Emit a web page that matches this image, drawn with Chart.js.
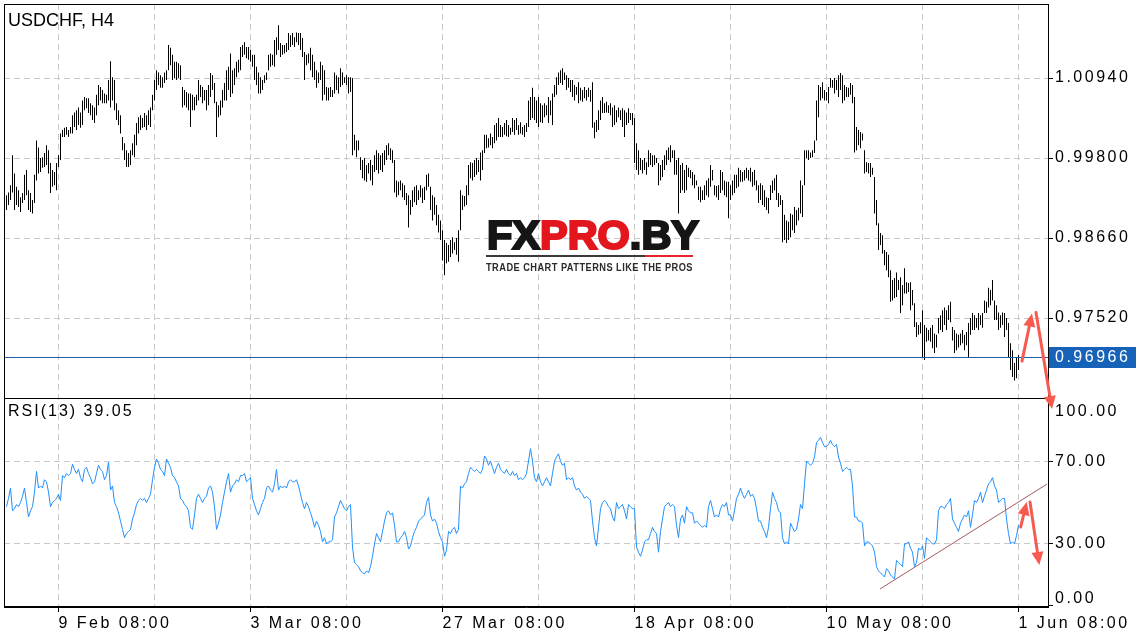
<!DOCTYPE html>
<html>
<head>
<meta charset="utf-8">
<title>USDCHF, H4</title>
<script src="https://cdn.jsdelivr.net/npm/chart.js@4.4.1/dist/chart.umd.min.js"></script>
<style>
  html, body { margin: 0; padding: 0; background: #fff; }
  #wrap { position: relative; width: 1136px; height: 640px; }
</style>
</head>
<body>
<div id="wrap"><canvas id="chart" width="1136" height="640"></canvas></div>
<script>
// USDCHF H4 bars (high / low of each bar)
const highs = [
  0.9927, 0.9931, 0.9941, 0.9984, 0.9958, 0.9939, 0.9934, 0.9924, 0.9930, 0.9956,
  0.9963, 0.9934, 0.9930, 0.9920, 0.9956, 1.0005, 0.9995, 0.9980, 0.9981, 0.9987,
  0.9998, 0.9991, 0.9973, 0.9963, 0.9960, 0.9973, 0.9984, 1.0015, 1.0020, 1.0023,
  1.0024, 1.0020, 1.0024, 1.0041, 1.0045, 1.0048, 1.0052, 1.0045, 1.0062, 1.0067,
  1.0065, 1.0065, 1.0058, 1.0055, 1.0052, 1.0070, 1.0084, 1.0081, 1.0077, 1.0072,
  1.0070, 1.0091, 1.0118, 1.0095, 1.0091, 1.0058, 1.0048, 1.0041, 1.0010, 1.0001,
  0.9991, 0.9987, 0.9991, 1.0001, 1.0013, 1.0030, 1.0038, 1.0041, 1.0037, 1.0044,
  1.0041, 1.0048, 1.0052, 1.0070, 1.0091, 1.0105, 1.0102, 1.0098, 1.0095, 1.0102,
  1.0105, 1.0141, 1.0137, 1.0127, 1.0117, 1.0117, 1.0115, 1.0112, 1.0081, 1.0077,
  1.0074, 1.0072, 1.0072, 1.0070, 1.0067, 1.0070, 1.0091, 1.0084, 1.0081, 1.0077,
  1.0077, 1.0084, 1.0101, 1.0098, 1.0087, 1.0060, 1.0055, 1.0062, 1.0077, 1.0087,
  1.0105, 1.0110, 1.0129, 1.0105, 1.0108, 1.0117, 1.0120, 1.0138, 1.0141, 1.0145,
  1.0138, 1.0138, 1.0134, 1.0127, 1.0127, 1.0110, 1.0102, 1.0095, 1.0091, 1.0098,
  1.0102, 1.0127, 1.0129, 1.0127, 1.0148, 1.0152, 1.0169, 1.0144, 1.0141, 1.0141,
  1.0144, 1.0158, 1.0155, 1.0158, 1.0152, 1.0159, 1.0158, 1.0158, 1.0151, 1.0131,
  1.0127, 1.0129, 1.0137, 1.0127, 1.0117, 1.0105, 1.0102, 1.0117, 1.0112, 1.0105,
  1.0081, 1.0080, 1.0081, 1.0077, 1.0102, 1.0098, 1.0095, 1.0108, 1.0102, 1.0095,
  1.0098, 1.0095, 1.0095, 1.0094, 1.0013, 1.0005, 1.0005, 0.9981, 0.9977, 0.9980,
  0.9970, 0.9973, 0.9977, 0.9970, 0.9984, 0.9991, 0.9987, 0.9984, 0.9987, 0.9991,
  0.9998, 1.0001, 0.9994, 0.9991, 0.9977, 0.9948, 0.9946, 0.9948, 0.9944, 0.9941,
  0.9930, 0.9927, 0.9920, 0.9934, 0.9939, 0.9941, 0.9934, 0.9941, 0.9937, 0.9939,
  0.9956, 0.9958, 0.9939, 0.9927, 0.9924, 0.9913, 0.9899, 0.9891, 0.9877, 0.9863,
  0.9859, 0.9856, 0.9863, 0.9867, 0.9860, 0.9866, 0.9877, 0.9934, 0.9927, 0.9926,
  0.9941, 0.9970, 0.9974, 0.9973, 0.9977, 0.9980, 0.9977, 0.9988, 0.9991, 1.0013,
  1.0013, 1.0008, 1.0015, 1.0010, 1.0027, 1.0030, 1.0037, 1.0027, 1.0024, 1.0030,
  1.0034, 1.0027, 1.0023, 1.0037, 1.0034, 1.0037, 1.0027, 1.0031, 1.0024, 1.0027,
  1.0030, 1.0062, 1.0067, 1.0080, 1.0067, 1.0062, 1.0067, 1.0058, 1.0055, 1.0058,
  1.0055, 1.0067, 1.0062, 1.0072, 1.0084, 1.0095, 1.0102, 1.0105, 1.0108, 1.0102,
  1.0098, 1.0094, 1.0091, 1.0091, 1.0084, 1.0081, 1.0088, 1.0080, 1.0077, 1.0081,
  1.0077, 1.0080, 1.0077, 1.0088, 1.0031, 1.0034, 1.0048, 1.0062, 1.0067, 1.0058,
  1.0060, 1.0055, 1.0058, 1.0052, 1.0055, 1.0048, 1.0052, 1.0048, 1.0051, 1.0048,
  1.0045, 1.0051, 1.0044, 1.0044, 1.0037, 1.0001, 0.9991, 0.9980, 0.9977, 0.9980,
  0.9974, 0.9991, 0.9987, 0.9984, 0.9984, 0.9980, 0.9973, 0.9970, 0.9977, 0.9984,
  0.9991, 0.9995, 0.9998, 0.9991, 0.9991, 0.9977, 0.9980, 0.9970, 0.9973, 0.9963,
  0.9970, 0.9966, 0.9963, 0.9960, 0.9956, 0.9948, 0.9939, 0.9939, 0.9934, 0.9941,
  0.9948, 0.9951, 0.9970, 0.9963, 0.9941, 0.9940, 0.9941, 0.9963, 0.9960, 0.9948,
  0.9946, 0.9946, 0.9941, 0.9948, 0.9956, 0.9956, 0.9966, 0.9963, 0.9960, 0.9963,
  0.9966, 0.9963, 0.9966, 0.9960, 0.9963, 0.9948, 0.9941, 0.9944, 0.9941, 0.9934,
  0.9924, 0.9923, 0.9941, 0.9948, 0.9951, 0.9956, 0.9930, 0.9927, 0.9920, 0.9899,
  0.9891, 0.9889, 0.9901, 0.9899, 0.9910, 0.9906, 0.9909, 0.9948, 0.9941, 0.9991,
  0.9991, 0.9991, 0.9988, 0.9991, 1.0005, 1.0062, 1.0084, 1.0081, 1.0088, 1.0077,
  1.0074, 1.0081, 1.0094, 1.0091, 1.0094, 1.0091, 1.0098, 1.0101, 1.0098, 1.0084,
  1.0081, 1.0080, 1.0087, 1.0084, 1.0067, 1.0024, 1.0020, 1.0017, 1.0015, 0.9991,
  0.9974, 0.9973, 0.9973, 0.9966, 0.9953, 0.9920, 0.9887, 0.9873, 0.9870, 0.9849,
  0.9846, 0.9842, 0.9820, 0.9806, 0.9809, 0.9817, 0.9806, 0.9810, 0.9799, 0.9823,
  0.9803, 0.9802, 0.9803, 0.9792, 0.9773, 0.9746, 0.9742, 0.9746, 0.9763, 0.9742,
  0.9738, 0.9735, 0.9738, 0.9742, 0.9730, 0.9728, 0.9752, 0.9756, 0.9763, 0.9767,
  0.9763, 0.9770, 0.9775, 0.9739, 0.9735, 0.9730, 0.9728, 0.9730, 0.9735, 0.9728,
  0.9732, 0.9745, 0.9752, 0.9759, 0.9756, 0.9752, 0.9759, 0.9756, 0.9759, 0.9777,
  0.9775, 0.9795, 0.9792, 0.9806, 0.9777, 0.9770, 0.9760, 0.9756, 0.9760, 0.9759,
  0.9752, 0.9745, 0.9716, 0.9706, 0.9688, 0.9695, 0.9699
];
const lows = [
  0.9906, 0.9913, 0.9920, 0.9931, 0.9906, 0.9913, 0.9910, 0.9903, 0.9916, 0.9920,
  0.9927, 0.9906, 0.9903, 0.9901, 0.9916, 0.9948, 0.9958, 0.9960, 0.9966, 0.9967,
  0.9970, 0.9958, 0.9930, 0.9939, 0.9941, 0.9934, 0.9967, 0.9977, 1.0010, 1.0010,
  1.0013, 1.0010, 1.0015, 1.0015, 1.0024, 1.0020, 1.0027, 1.0023, 1.0027, 1.0048,
  1.0051, 1.0044, 1.0041, 1.0034, 1.0030, 1.0041, 1.0055, 1.0062, 1.0058, 1.0058,
  1.0058, 1.0062, 1.0052, 1.0062, 1.0048, 1.0034, 1.0027, 1.0015, 0.9991, 0.9977,
  0.9967, 0.9967, 0.9970, 0.9984, 0.9981, 0.9998, 1.0015, 1.0020, 1.0023, 1.0024,
  1.0020, 1.0027, 1.0024, 1.0048, 1.0062, 1.0077, 1.0084, 1.0080, 1.0080, 1.0087,
  1.0091, 1.0105, 1.0112, 1.0091, 1.0094, 1.0091, 1.0094, 1.0091, 1.0052, 1.0055,
  1.0052, 1.0048, 1.0024, 1.0048, 1.0048, 1.0055, 1.0062, 1.0067, 1.0058, 1.0062,
  1.0048, 1.0055, 1.0067, 1.0077, 1.0058, 1.0010, 1.0038, 1.0041, 1.0052, 1.0062,
  1.0062, 1.0077, 1.0067, 1.0072, 1.0084, 1.0095, 1.0102, 1.0105, 1.0124, 1.0127,
  1.0122, 1.0120, 1.0117, 1.0110, 1.0091, 1.0084, 1.0072, 1.0072, 1.0077, 1.0087,
  1.0091, 1.0105, 1.0110, 1.0112, 1.0110, 1.0127, 1.0134, 1.0124, 1.0127, 1.0129,
  1.0131, 1.0134, 1.0138, 1.0141, 1.0138, 1.0145, 1.0141, 1.0134, 1.0124, 1.0091,
  1.0112, 1.0115, 1.0105, 1.0095, 1.0091, 1.0080, 1.0087, 1.0091, 1.0062, 1.0070,
  1.0062, 1.0062, 1.0067, 1.0067, 1.0072, 1.0077, 1.0072, 1.0081, 1.0084, 1.0087,
  1.0084, 1.0072, 1.0074, 0.9984, 0.9991, 0.9981, 0.9991, 0.9963, 0.9951, 0.9948,
  0.9946, 0.9958, 0.9948, 0.9941, 0.9960, 0.9963, 0.9958, 0.9963, 0.9960, 0.9970,
  0.9977, 0.9984, 0.9977, 0.9973, 0.9931, 0.9924, 0.9927, 0.9934, 0.9924, 0.9920,
  0.9913, 0.9881, 0.9899, 0.9910, 0.9917, 0.9913, 0.9920, 0.9924, 0.9916, 0.9920,
  0.9934, 0.9939, 0.9906, 0.9891, 0.9899, 0.9884, 0.9874, 0.9863, 0.9834, 0.9813,
  0.9830, 0.9832, 0.9839, 0.9844, 0.9849, 0.9842, 0.9832, 0.9877, 0.9906, 0.9911,
  0.9913, 0.9927, 0.9951, 0.9948, 0.9953, 0.9956, 0.9960, 0.9948, 0.9963, 0.9987,
  0.9994, 0.9995, 0.9998, 0.9994, 1.0001, 1.0005, 1.0010, 1.0010, 1.0010, 1.0013,
  1.0011, 1.0010, 1.0013, 1.0017, 1.0013, 1.0020, 1.0013, 1.0015, 1.0013, 1.0010,
  1.0017, 1.0024, 1.0034, 1.0037, 1.0034, 1.0030, 1.0024, 1.0031, 1.0030, 1.0038,
  1.0041, 1.0030, 1.0041, 1.0027, 1.0067, 1.0070, 1.0084, 1.0087, 1.0084, 1.0091,
  1.0077, 1.0080, 1.0074, 1.0067, 1.0062, 1.0070, 1.0058, 1.0062, 1.0060, 1.0065,
  1.0062, 1.0067, 1.0060, 1.0023, 1.0008, 1.0017, 1.0020, 1.0034, 1.0044, 1.0044,
  1.0045, 1.0044, 1.0041, 1.0024, 1.0027, 1.0031, 1.0038, 1.0034, 1.0024, 1.0010,
  1.0027, 1.0030, 1.0034, 1.0027, 0.9973, 0.9963, 0.9956, 0.9963, 0.9958, 0.9963,
  0.9956, 0.9967, 0.9970, 0.9967, 0.9970, 0.9973, 0.9941, 0.9948, 0.9953, 0.9963,
  0.9970, 0.9977, 0.9974, 0.9980, 0.9956, 0.9956, 0.9901, 0.9930, 0.9934, 0.9930,
  0.9934, 0.9953, 0.9951, 0.9941, 0.9937, 0.9941, 0.9920, 0.9917, 0.9920, 0.9920,
  0.9927, 0.9924, 0.9939, 0.9948, 0.9927, 0.9924, 0.9920, 0.9930, 0.9934, 0.9927,
  0.9924, 0.9894, 0.9920, 0.9927, 0.9930, 0.9937, 0.9939, 0.9946, 0.9946, 0.9948,
  0.9951, 0.9948, 0.9946, 0.9939, 0.9941, 0.9934, 0.9916, 0.9920, 0.9913, 0.9910,
  0.9906, 0.9901, 0.9920, 0.9930, 0.9934, 0.9920, 0.9910, 0.9913, 0.9860, 0.9863,
  0.9859, 0.9863, 0.9867, 0.9877, 0.9873, 0.9884, 0.9891, 0.9901, 0.9896, 0.9941,
  0.9980, 0.9977, 0.9980, 0.9981, 0.9987, 1.0005, 1.0038, 1.0062, 1.0065, 1.0062,
  1.0062, 1.0058, 1.0080, 1.0080, 1.0072, 1.0077, 1.0067, 1.0077, 1.0058, 1.0062,
  1.0067, 1.0067, 1.0070, 1.0058, 0.9988, 0.9991, 0.9998, 0.9994, 1.0005, 0.9958,
  0.9960, 0.9958, 0.9953, 0.9956, 0.9901, 0.9884, 0.9849, 0.9856, 0.9844, 0.9827,
  0.9820, 0.9810, 0.9775, 0.9777, 0.9780, 0.9782, 0.9792, 0.9759, 0.9770, 0.9787,
  0.9787, 0.9789, 0.9763, 0.9770, 0.9739, 0.9725, 0.9728, 0.9730, 0.9695, 0.9692,
  0.9718, 0.9720, 0.9718, 0.9709, 0.9702, 0.9710, 0.9730, 0.9735, 0.9732, 0.9742,
  0.9735, 0.9749, 0.9746, 0.9720, 0.9702, 0.9706, 0.9710, 0.9713, 0.9716, 0.9706,
  0.9713, 0.9696, 0.9728, 0.9735, 0.9735, 0.9738, 0.9735, 0.9742, 0.9738, 0.9759,
  0.9759, 0.9767, 0.9770, 0.9777, 0.9749, 0.9749, 0.9735, 0.9738, 0.9742, 0.9725,
  0.9735, 0.9696, 0.9678, 0.9668, 0.9663, 0.9666, 0.9678
];
// RSI(13) per bar
const rsi = [
  48, 52, 57, 46, 47, 49, 48, 50, 53, 57,
  50, 43, 46, 48, 55, 65, 57, 58, 57, 61,
  60, 55, 48, 50, 51, 52, 54, 51, 63, 62,
  64, 63, 64, 68.5, 66, 64, 66, 62, 60, 66,
  67, 64, 62, 59, 60, 64, 68, 66, 65, 61,
  63, 69.5, 56, 58, 50, 48, 45, 41, 37, 33,
  35, 36, 37, 42, 45, 49, 51, 52, 51, 52,
  50, 52, 54, 61, 67, 71, 69, 66, 65, 63,
  71, 69, 67, 63, 62, 60, 58, 52, 51, 49,
  48, 46, 38, 37, 44, 52, 54, 52, 50, 52,
  53, 57, 58, 55, 48, 37, 40, 44, 50, 55,
  60, 64, 55, 58, 59, 61, 60, 63, 63, 64,
  60, 61, 62, 52, 49, 46, 44, 47, 50, 52,
  57, 58, 56, 55, 59, 66, 56, 58, 57, 58,
  57, 60, 61, 60, 60, 61, 58, 54, 50, 47,
  50, 48, 45, 42, 38, 41, 39, 36, 31, 33,
  30, 31, 31, 32, 43, 45, 48, 51, 49, 47,
  46, 48, 49, 28.5, 21, 20, 19, 17, 16, 15.5,
  17, 16, 19, 24, 30, 35, 33, 31, 36, 41,
  45, 46, 44, 45, 39, 31, 31, 33, 34, 36,
  33, 27.5, 29, 33, 36, 38, 41, 42, 43, 44,
  50, 52.5, 44, 41, 42, 40, 36, 33, 31, 24,
  27, 36, 35, 37, 38, 35, 37, 58, 57, 59,
  60, 64, 67, 66, 65, 66, 65, 64, 66, 72.5,
  71, 68, 70, 67, 64, 67, 69, 66, 65, 64,
  66, 64, 63, 65, 63, 64, 61, 62, 61, 62,
  64, 70, 76, 70, 62, 60, 64, 60, 58, 60,
  62, 60, 58, 64, 70, 72, 73.5, 70, 68, 69,
  61, 62, 61, 62, 58, 56, 57, 55, 54, 52,
  53, 52, 51, 41, 33, 29, 38, 47, 50, 51,
  50, 48, 47, 43, 41, 50, 47, 48, 49, 46,
  42, 49, 48, 47, 47, 28.5, 26, 24, 27, 31,
  32, 32, 35, 38, 36, 35, 26, 36, 42, 48,
  49, 50, 48, 49, 48, 39, 33, 42, 44, 40,
  48, 46, 45, 45, 40, 41, 40, 39, 38, 39,
  38, 48, 51, 47, 43, 44, 43, 47, 49, 48,
  50, 44, 44, 41, 46, 52, 54, 57, 54, 52,
  54, 56, 53, 54, 52, 47, 41, 41, 38, 36,
  33, 38, 47, 55, 52, 50, 46, 45, 33, 30,
  31, 30, 40, 38, 36, 37, 42, 49, 47, 59,
  70, 69, 68, 69, 72, 79, 80, 81.5, 79, 77,
  77, 78, 80, 78, 77, 78, 72, 69, 65, 66,
  67, 66, 66, 58, 43, 43, 41, 41, 40, 29,
  31, 31, 30, 29, 26, 19, 17, 16, 15, 14,
  18, 17, 15, 14, 13, 22, 21, 20, 19, 30,
  30, 31, 28, 26, 19, 21, 28, 27, 29, 23,
  33, 32, 31, 30, 30, 32, 46, 48, 48, 47,
  49, 50, 52, 42, 40, 38, 36, 40, 42, 44,
  43, 46, 38, 44, 51, 50, 52, 55, 50, 53,
  56, 59, 60, 62, 58, 56, 50, 51, 52, 52,
  42, 35, 30, 31, 30, 34, 39.05
];

const lastPrice = 0.96966;
const priceTicks = [1.00940, 0.99800, 0.98660, 0.97520];
const rsiTicks = [100, 70, 30, 0];
// grid every 48 bars, a date label on every second one
const xGridIdx = [26, 74, 122, 170, 218, 266, 314, 362, 410, 458, 506];
const xTickLabels = ['9 Feb 08:00', '3 Mar 08:00', '27 Mar 08:00', '18 Apr 08:00', '10 May 08:00', '1 Jun 08:00'];

// hand-drawn marks on the chart, in (bar, value) units
const rsiTrend = [[436.75, 8.2], [520.25, 58.9]];
const priceArrows = [[[507.75, 0.96906], [512.75, 0.97585]], [[514.75, 0.97600], [522.75, 0.96222]]];
const rsiArrows = [[[507.1, 38.2], [510.1, 50.2]], [[511.75, 50.2], [516.4, 19.8]]];

const FONT = "'Liberation Sans', Arial, sans-serif";
const GRID = '#c8c8c8';
const DASH = [6, 4];

Chart.defaults.font.family = FONT;
Chart.defaults.font.size = 16;
Chart.defaults.color = '#000';

const barData = highs.map((h, i) => ({ x: i, y: [lows[i], h] }));
const rsiData = rsi.map((v, i) => ({ x: i, y: v }));

function drawArrow(ctx, x1, y1, x2, y2) {
  const ang = Math.atan2(y2 - y1, x2 - x1);
  const len = 13, half = 6;
  const bx = x2 - Math.cos(ang) * len, by = y2 - Math.sin(ang) * len;
  ctx.beginPath();
  ctx.moveTo(x1, y1);
  ctx.lineTo(bx, by);
  ctx.stroke();
  ctx.beginPath();
  ctx.moveTo(x2, y2);
  ctx.lineTo(bx + Math.sin(ang) * half, by - Math.cos(ang) * half);
  ctx.lineTo(bx - Math.sin(ang) * half, by + Math.cos(ang) * half);
  ctx.closePath();
  ctx.fill();
}

function fitText(ctx, text, x, y, width) {
  const w = ctx.measureText(text).width;
  ctx.save();
  ctx.translate(x, y);
  ctx.scale(width / w, 1);
  ctx.fillText(text, 0, 0);
  ctx.restore();
}

function drawLogo(ctx) {
  const x0 = 486, top = 221, base = 250;
  ctx.save();
  ctx.letterSpacing = '0px';
  ctx.textBaseline = 'alphabetic';
  ctx.font = "bold 40px " + FONT;
  const dark = ctx.createLinearGradient(0, top, 0, base);
  dark.addColorStop(0, '#151515');
  dark.addColorStop(0.45, '#2e2e2e');
  dark.addColorStop(1, '#8c8c8c');
  const red = ctx.createLinearGradient(0, top, 0, base);
  red.addColorStop(0, '#e3161e');
  red.addColorStop(0.5, '#ee3037');
  red.addColorStop(1, '#f6a2a2');
  const parts = [['FX', dark], ['PRO', red], ['.BY', dark]];
  const total = parts.reduce((s, p) => s + ctx.measureText(p[0]).width, 0);
  const sx = 212 / total;
  ctx.translate(x0 + 1, base - 1);
  ctx.scale(sx, 1);
  ctx.lineWidth = 2.2;
  ctx.lineJoin = 'miter';
  let cx = 0;
  parts.forEach(p => {
    ctx.fillStyle = p[1];
    ctx.strokeStyle = p[1];
    ctx.fillText(p[0], cx, 0);
    ctx.strokeText(p[0], cx, 0);
    cx += ctx.measureText(p[0]).width;
  });
  ctx.restore();

  ctx.save();
  ctx.fillStyle = '#3a3a3a';
  ctx.fillRect(486, 255, 159, 2);
  ctx.fillStyle = '#e8232a';
  ctx.fillRect(645, 255, 48, 2);
  ctx.letterSpacing = '0.5px';
  ctx.font = "bold 10px " + FONT;
  ctx.fillStyle = '#2b2b2b';
  ctx.textBaseline = 'alphabetic';
  fitText(ctx, 'TRADE CHART PATTERNS LIKE THE PROS', 486, 271, 207);
  ctx.restore();
}

const overlay = {
  id: 'overlay',
  beforeDraw(chart) {
    chart.ctx.letterSpacing = '2.5px';
  },
  beforeDatasetsDraw(chart) {
    drawLogo(chart.ctx);
  },
  afterDatasetsDraw(chart) {
    const ctx = chart.ctx;
    const { x, y, rsi: r } = chart.scales;
    const area = chart.chartArea;

    // current price line and its label
    const py = Math.round(y.getPixelForValue(lastPrice)) + 0.5;
    ctx.save();
    ctx.strokeStyle = '#1f5fa6';
    ctx.lineWidth = 1;
    ctx.beginPath();
    ctx.moveTo(area.left, py);
    ctx.lineTo(area.right, py);
    ctx.stroke();
    ctx.fillStyle = '#1562b8';
    ctx.fillRect(area.right + 1, py - 10.5, 88, 21);
    ctx.fillStyle = '#fff';
    ctx.font = '16px ' + FONT;
    ctx.letterSpacing = '2.5px';
    ctx.textBaseline = 'middle';
    ctx.fillText(lastPrice.toFixed(5), area.right + 7, py + 0.5);
    ctx.restore();

    // panel frames
    ctx.save();
    ctx.strokeStyle = '#000';
    ctx.lineWidth = 1;
    ctx.strokeRect(area.left + 0.5, y.top + 0.5, area.right - area.left, y.bottom - y.top);
    ctx.strokeRect(area.left + 0.5, r.top + 0.5, area.right - area.left, r.bottom - r.top - 1);
    ctx.restore();

    // RSI trend line
    ctx.save();
    ctx.strokeStyle = '#a65a5c';
    ctx.lineWidth = 1;
    ctx.beginPath();
    ctx.moveTo(x.getPixelForValue(rsiTrend[0][0]), r.getPixelForValue(rsiTrend[0][1]));
    ctx.lineTo(x.getPixelForValue(rsiTrend[1][0]), r.getPixelForValue(rsiTrend[1][1]));
    ctx.stroke();
    ctx.restore();

    // red arrows
    ctx.save();
    ctx.strokeStyle = '#f75a50';
    ctx.fillStyle = '#f75a50';
    ctx.lineWidth = 3;
    ctx.lineCap = 'round';
    priceArrows.forEach(a => drawArrow(ctx,
      x.getPixelForValue(a[0][0]), y.getPixelForValue(a[0][1]),
      x.getPixelForValue(a[1][0]), y.getPixelForValue(a[1][1])));
    rsiArrows.forEach(a => drawArrow(ctx,
      x.getPixelForValue(a[0][0]), r.getPixelForValue(a[0][1]),
      x.getPixelForValue(a[1][0]), r.getPixelForValue(a[1][1])));
    ctx.restore();

    // texts
    ctx.save();
    ctx.fillStyle = '#000';
    ctx.textBaseline = 'alphabetic';
    ctx.letterSpacing = '0px';
    ctx.font = '18px ' + FONT;
    ctx.fillText('USDCHF, H4', 8, 26);
    ctx.letterSpacing = '2px';
    ctx.font = '16px ' + FONT;
    ctx.fillText('RSI(13) ' + rsi[rsi.length - 1].toFixed(2), 8, r.top + 18);
    ctx.letterSpacing = '2.5px';
    ctx.fillText('100.00', area.right + 7, r.top + 18);
    ctx.fillText('0.00', area.right + 7, r.bottom - 4);
    ctx.restore();
  }
};

new Chart(document.getElementById('chart'), {
  data: {
    datasets: [
      {
        type: 'bar',
        label: 'USDCHF',
        data: barData,
        yAxisID: 'y',
        backgroundColor: '#000',
        borderWidth: 0,
        inflateAmount: 0,
        barThickness: 1
      },
      {
        type: 'line',
        label: 'RSI(13)',
        data: rsiData,
        yAxisID: 'rsi',
        borderColor: '#1e90ff',
        borderWidth: 1,
        pointRadius: 0,
        tension: 0
      }
    ]
  },
  options: {
    responsive: false,
    animation: false,
    layout: { padding: { left: 4, top: 4, right: 0, bottom: 0 } },
    plugins: { legend: { display: false }, tooltip: { enabled: false } },
    scales: {
      x: {
        type: 'linear',
        offset: false,
        min: -1.25,
        max: 520.75,
        afterBuildTicks: s => { s.ticks = xGridIdx.map(v => ({ value: v })); },
        afterFit: s => { s.height = 33; s.paddingLeft = 0; s.paddingRight = 0; },
        ticks: {
          align: 'start',
          autoSkip: false,
          maxRotation: 0,
          padding: 2,
          callback: (v, i) => (i % 2 ? '' : xTickLabels[i / 2])
        },
        grid: {
          offset: false,
          color: GRID,
          tickLength: 5,
          tickBorderDash: [],
          tickColor: c => (c.index % 2 ? 'rgba(0,0,0,0)' : '#000')
        },
        border: { color: '#000', dash: DASH }
      },
      y: {
        position: 'right',
        stack: 'panes',
        stackWeight: 394,
        min: 0.9638,
        max: 1.019945,
        afterBuildTicks: s => { s.ticks = priceTicks.map(v => ({ value: v })); },
        afterFit: s => { s.width = 88; s.paddingTop = 0; s.paddingBottom = 0; },
        ticks: { padding: 2, callback: v => v.toFixed(5) },
        grid: { color: GRID, tickLength: 5, tickBorderDash: [], tickColor: '#000' },
        border: { color: '#000', dash: DASH }
      },
      rsi: {
        position: 'right',
        stack: 'panes',
        stackWeight: 209,
        min: -0.5,
        max: 100.5,
        afterBuildTicks: s => { s.ticks = rsiTicks.map(v => ({ value: v })); },
        afterFit: s => { s.width = 88; s.paddingTop = 0; s.paddingBottom = 0; },
        ticks: { padding: 2, callback: v => (v === 0 || v === 100 ? '' : v.toFixed(2)) },
        grid: {
          color: c => (c.tick && (c.tick.value === 0 || c.tick.value === 100) ? 'rgba(0,0,0,0)' : GRID),
          tickLength: 5,
          tickBorderDash: [],
          tickColor: '#000'
        },
        border: { color: '#000', dash: DASH }
      }
    }
  },
  plugins: [overlay]
});
</script>
</body>
</html>
